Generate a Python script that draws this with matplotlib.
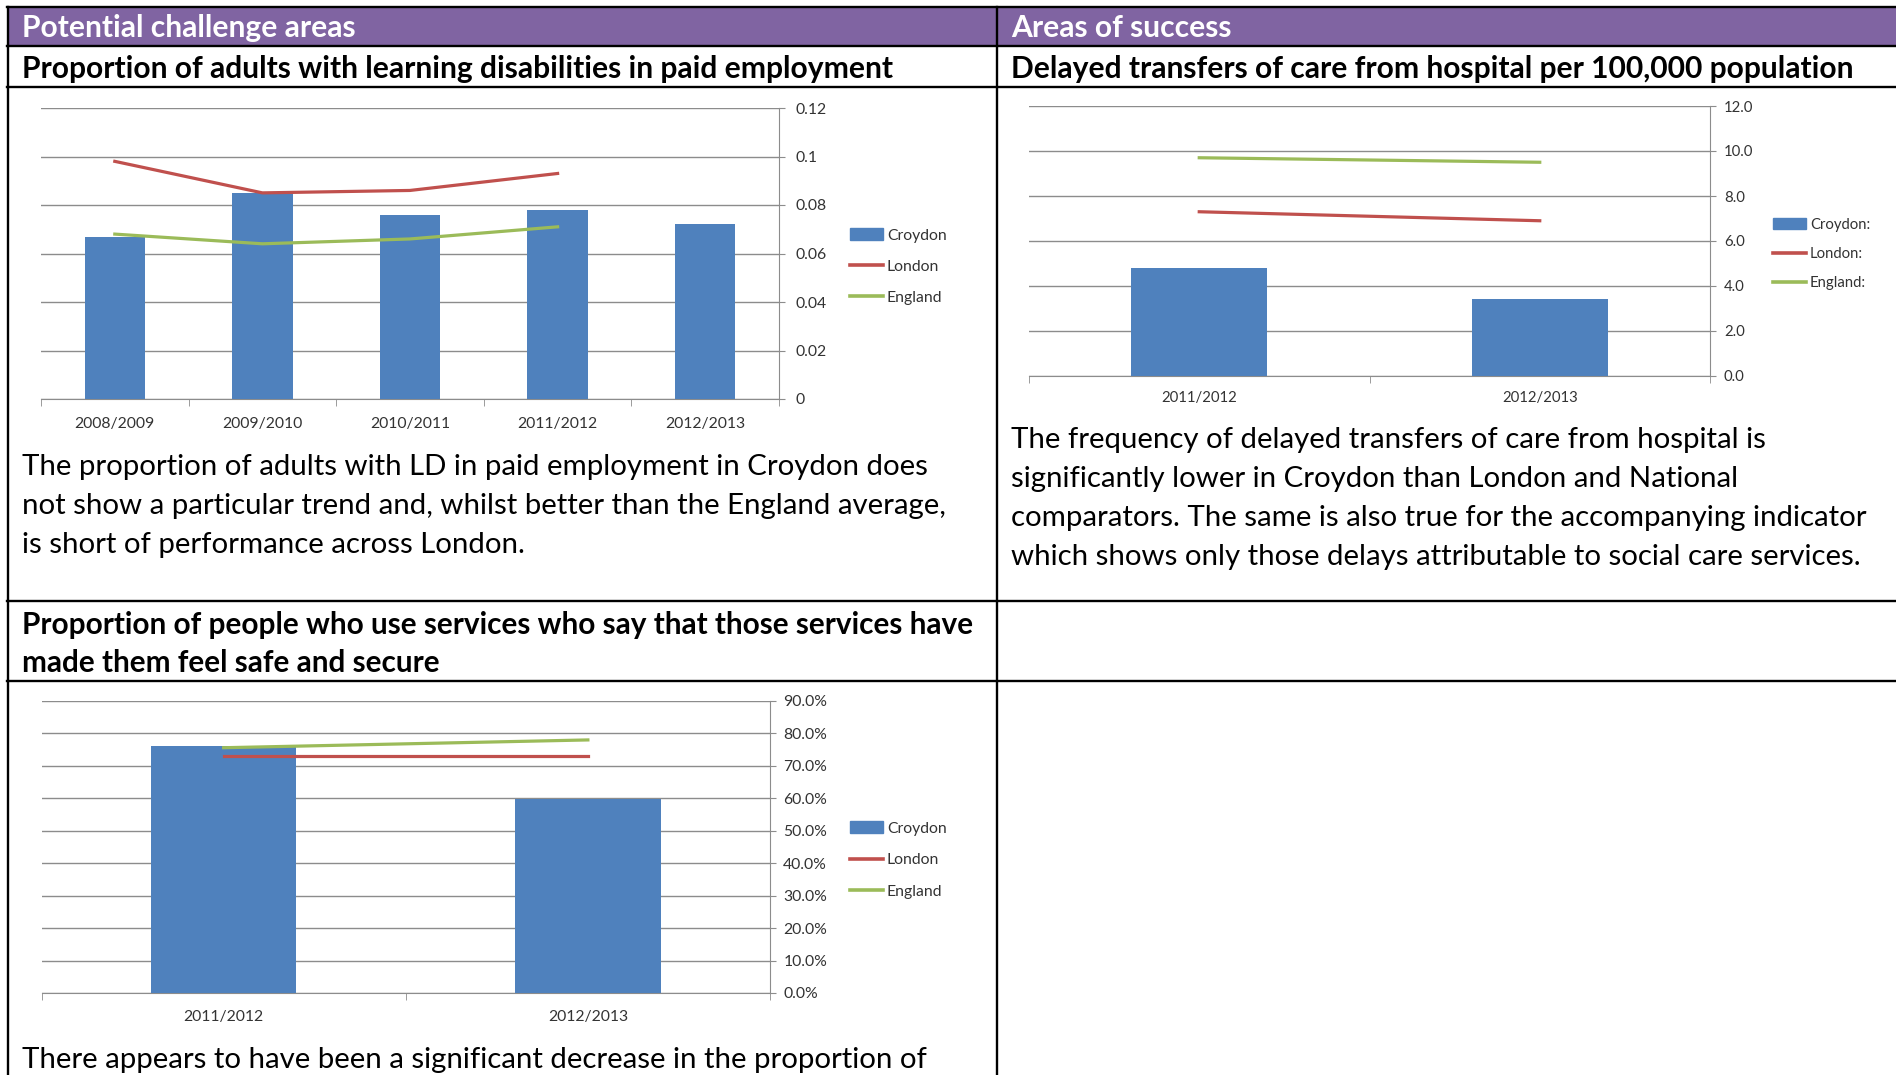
import matplotlib
matplotlib.use('Agg')
import matplotlib.pyplot as plt
from matplotlib.lines import Line2D
from matplotlib.patches import Rectangle, Patch
from matplotlib.ticker import FormatStrFormatter, FuncFormatter, PercentFormatter

W, H = 1896, 1075

# --- data ---
ld_years = ['2008/2009', '2009/2010', '2010/2011', '2011/2012', '2012/2013']
ld_croydon = [0.067, 0.085, 0.076, 0.078, 0.072]
ld_london = [0.098, 0.085, 0.086, 0.093]
ld_england = [0.068, 0.064, 0.066, 0.071]
ld_ticks = [0, 0.02, 0.04, 0.06, 0.08, 0.1, 0.12]

dtoc_years = ['2011/2012', '2012/2013']
dtoc_croydon = [4.8, 3.4]
dtoc_london = [7.3, 6.9]
dtoc_england = [9.7, 9.5]
dtoc_ticks = [0, 2, 4, 6, 8, 10, 12]

safe_years = ['2011/2012', '2012/2013']
safe_croydon = [0.761, 0.597]
safe_london = [0.732, 0.732]
safe_england = [0.756, 0.780]
safe_ticks = [0, 0.1, 0.2, 0.3, 0.4, 0.5, 0.6, 0.7, 0.8, 0.9]

legend_plain = ['Croydon', 'London', 'England']
legend_colon = ['Croydon:', 'London:', 'England:']

headers = ['Potential challenge areas', 'Areas of success']
title_ld = 'Proportion of adults with learning disabilities in paid employment'
title_dtoc = 'Delayed transfers of care from hospital per 100,000 population'
title_safe = ['Proportion of people who use services who say that those services have',
              'made them feel safe and secure']
text_ld = ['The proportion of adults with LD in paid employment in Croydon does',
           'not show a particular trend and, whilst better than the England average,',
           'is short of performance across London.']
text_dtoc = ['The frequency of delayed transfers of care from hospital is',
             'significantly lower in Croydon than London and National',
             'comparators. The same is also true for the accompanying indicator',
             'which shows only those delays attributable to social care services.']
text_safe = ['There appears to have been a significant decrease in the proportion of']

BLUE = '#4F81BD'
RED = '#C0504D'
GREEN = '#9BBB59'
PURPLE = '#8064A2'
GRID = '#8C8C8C'
TXT = '#333333'

plt.rcParams['font.family'] = ['Lato', 'DejaVu Sans']

fig = plt.figure(figsize=(W / 100, H / 100), dpi=100)
renderer = fig.canvas.get_renderer()


def fx(x):
    return x / W


def fy(y):
    return 1 - y / H


def fit(text, width, weight='normal'):
    # font size that makes text span `width` pixels
    t = fig.text(0, 0, text, fontsize=20, fontweight=weight)
    w = t.get_window_extent(renderer).width
    t.remove()
    return 20 * width / w


def put(text, x, yc, size, weight='normal', color='black'):
    # yc = visual middle of the line, pixels from the top
    fig.text(fx(x), fy(yc + 0.33 * size * 100 / 72), text, fontsize=size,
             fontweight=weight, color=color, va='baseline', ha='left')


head_fs = fit(headers[0], 333, 'bold')
title_fs = fit(title_ld, 872, 'bold')
body_fs = fit(text_ld[0], 909)
tick_fs = fit('2008/2009', 80)

# --- table frame ---
fig.add_artist(Rectangle((fx(7), fy(46)), fx(W) - fx(7), fy(7) - fy(46),
                         transform=fig.transFigure, color=PURPLE, lw=0))
for y in [7, 46, 87, 601, 681]:
    fig.add_artist(Line2D([fx(7), fx(W)], [fy(y), fy(y)], color='black', lw=1.7))
for x in [7.5, 997]:
    fig.add_artist(Line2D([fx(x), fx(x)], [fy(7), fy(H)], color='black', lw=1.7))

put(headers[0], 22, 27.5, head_fs, 'bold', 'white')
put(headers[1], 1011, 27.5, head_fs, 'bold', 'white')
put(title_ld, 22, 67.7, title_fs, 'bold')
put(title_dtoc, 1011, 67.7, title_fs, 'bold')
for i, line in enumerate(title_safe):
    put(line, 22, 624 + i * 38, title_fs * 0.99, 'bold')
for i, line in enumerate(text_ld):
    put(line, 22, 465 + i * 39, body_fs)
for i, line in enumerate(text_dtoc):
    put(line, 1011, 438 + i * 39, body_fs)
for i, line in enumerate(text_safe):
    put(line, 22, 1058 + i * 39, body_fs)


def chart(box, cats, croydon, london, england, ylim, yticks, fmt, labels,
          leg_xy, leg_gap, bar_w, xpad, ypad, fs):
    left, right, top, bottom = box
    ax = fig.add_axes([fx(left), fy(bottom), fx(right) - fx(left), fy(top) - fy(bottom)])
    ax.bar(range(len(cats)), croydon, width=bar_w, color=BLUE, zorder=3)
    ax.plot(range(len(london)), london, color=RED, lw=2.3, zorder=4)
    ax.plot(range(len(england)), england, color=GREEN, lw=2.3, zorder=4)
    ax.set_xlim(-0.5, len(cats) - 0.5)
    ax.set_ylim(*ylim)
    ax.set_yticks(yticks)
    ax.yaxis.set_major_formatter(fmt)
    ax.yaxis.tick_right()
    ax.grid(axis='y', color=GRID, lw=1)
    ax.set_axisbelow(True)
    for s in ['top', 'left']:
        ax.spines[s].set_visible(False)
    for s in ['right', 'bottom']:
        ax.spines[s].set_color(GRID)
    ax.set_xticks(range(len(cats)))
    ax.set_xticklabels(cats)
    ax.set_xticks([i - 0.5 for i in range(len(cats) + 1)], minor=True)
    ax.tick_params(axis='x', which='major', length=0, pad=xpad, labelsize=fs, labelcolor=TXT)
    ax.tick_params(axis='x', which='minor', length=5, color=GRID)
    ax.tick_params(axis='y', length=4, color=GRID, pad=ypad, labelsize=fs, labelcolor=TXT)
    ax.patch.set_visible(False)

    handles = [Patch(color=BLUE), Line2D([], [], color=RED, lw=2.6),
               Line2D([], [], color=GREEN, lw=2.6)]
    em = fs * 100 / 72
    lx, ly = leg_xy
    ax.legend(handles, labels, loc='upper left',
              bbox_to_anchor=(fx(lx), fy(ly - 0.35 * em)), bbox_transform=fig.transFigure,
              frameon=False, fontsize=fs, handlelength=33 / em, handletextpad=4 / em,
              labelspacing=(leg_gap - 0.95 * em) / em, borderpad=0, borderaxespad=0,
              labelcolor=TXT)
    return ax


chart((41, 779, 108, 399), ld_years, ld_croydon, ld_london, ld_england,
      (0, 0.12), ld_ticks, FuncFormatter(lambda v, p: '{:g}'.format(round(v, 2))),
      legend_plain, (850, 234), 32, 0.41, 13, 8, tick_fs)

chart((1029, 1710, 106, 376), dtoc_years, dtoc_croydon, dtoc_london, dtoc_england,
      (0, 12), dtoc_ticks, FormatStrFormatter('%.1f'),
      legend_colon, (1773, 223), 29.5, 0.40, 11, 6, tick_fs * 0.95)

chart((41.5, 770, 701, 993), safe_years, safe_croydon, safe_london, safe_england,
      (0, 0.9), safe_ticks, PercentFormatter(1.0, decimals=1),
      legend_plain, (850, 827), 32.5, 0.40, 12, 5.5, tick_fs)

fig.savefig('out.png', dpi=100)
